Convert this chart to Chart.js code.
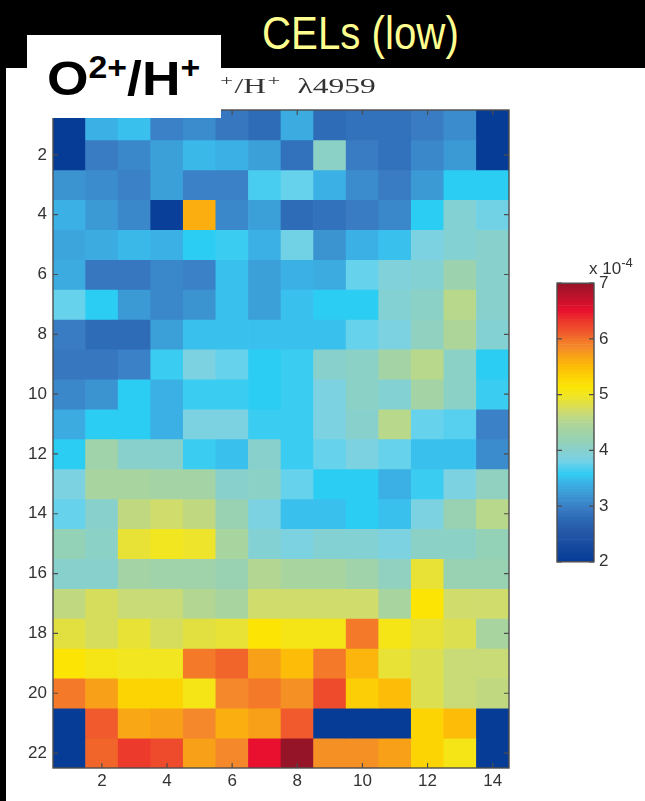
<!DOCTYPE html>
<html>
<head>
<meta charset="utf-8">
<script src="https://cdn.jsdelivr.net/npm/chart.js@4.4.1/dist/chart.umd.min.js"></script>
<style>
  html, body { margin: 0; padding: 0; background: #fff; }
  body { width: 645px; height: 801px; position: relative; overflow: hidden; font-family: "Liberation Sans", Arial, sans-serif; }
  canvas { position: absolute; }
  #map { left: 0; top: 0; }
  #cbar { left: 550px; top: 268px; }
  .black { position: absolute; background: #000; }
  #head { left: 0; top: 0; width: 645px; height: 68px; }
  #edge { left: 0; top: 0; width: 6px; height: 801px; }
  #head span { position: absolute; left: 262px; top: 6px; color: #ffff90; font-size: 46px; white-space: nowrap; transform: scaleX(0.875); transform-origin: left top; }
  #tag { position: absolute; left: 27px; top: 35px; width: 194px; height: 83px; background: #fff; }
  #tag span { position: absolute; left: 20px; top: 19px; font-weight: bold; font-size: 49px; line-height: 1; color: #000; white-space: nowrap; transform: scaleX(1.09); transform-origin: left top; }
  #tag sup { font-size: 31px; vertical-align: 17px; line-height: 0; }
  #expo { position: absolute; left: 589px; top: 259px; font-size: 17px; color: #333; white-space: nowrap; }
  #expo sup { font-size: 13px; vertical-align: 7px; line-height: 0; }
</style>
</head>
<body>
<canvas id="map" width="520" height="801"></canvas>
<canvas id="cbar" width="95" height="309"></canvas>
<div class="black" id="head"><span>CELs (low)</span></div>
<div class="black" id="edge"></div>
<div id="tag"><span>O<sup>2+</sup>/H<sup>+</sup></span></div>
<div id="expo">x 10<sup>-4</sup></div>
<script>
const columns = [1, 2, 3, 4, 5, 6, 7, 8, 9, 10, 11, 12, 13, 14];
const rows = [1, 2, 3, 4, 5, 6, 7, 8, 9, 10, 11, 12, 13, 14, 15, 16, 17, 18, 19, 20, 21, 22];
const xTicks = [2, 4, 6, 8, 10, 12, 14];
const yTicks = [2, 4, 6, 8, 10, 12, 14, 16, 18, 20, 22];
const barTicks = [2, 3, 4, 5, 6, 7];
const barMin = 2;
const barMax = 7;

// O2+/H+ from [O III] 4959, in units of 1e-4, one line per map row (row 1 first)
const ratio = [
  [2.0, 3.4, 3.5, 3.0, 3.1, 2.9, 2.8, 3.35, 2.8, 2.85, 2.85, 2.95, 3.1, 2.0],
  [2.0, 2.95, 3.05, 3.25, 3.45, 3.4, 3.25, 2.85, 4.05, 2.95, 2.85, 3.05, 3.2, 2.0],
  [3.15, 3.1, 3.0, 3.25, 3.0, 3.0, 3.65, 3.75, 3.4, 3.1, 2.95, 3.2, 3.55, 3.55],
  [3.4, 3.2, 3.05, 2.05, 5.6, 3.05, 3.25, 2.8, 2.85, 2.95, 3.05, 3.55, 3.95, 3.8],
  [3.3, 3.35, 3.45, 3.4, 3.55, 3.6, 3.4, 3.8, 3.15, 3.4, 3.5, 3.85, 3.95, 4.0],
  [3.35, 2.9, 2.9, 3.05, 3.0, 3.5, 3.25, 3.4, 3.35, 3.75, 3.9, 3.95, 4.25, 4.0],
  [3.75, 3.55, 3.2, 3.05, 3.15, 3.5, 3.25, 3.5, 3.55, 3.55, 3.95, 4.05, 4.55, 4.0],
  [2.95, 2.8, 2.8, 3.25, 3.5, 3.5, 3.5, 3.5, 3.5, 3.75, 3.85, 4.1, 4.45, 3.95],
  [2.9, 2.9, 3.0, 3.6, 3.85, 3.75, 3.55, 3.6, 4.0, 4.05, 4.35, 4.55, 4.05, 3.55],
  [3.05, 3.15, 3.55, 3.4, 3.6, 3.6, 3.55, 3.6, 3.85, 4.05, 3.95, 4.35, 4.05, 3.6],
  [3.35, 3.55, 3.55, 3.4, 3.85, 3.85, 3.6, 3.6, 3.85, 4.0, 4.55, 3.75, 3.7, 3.0],
  [3.55, 4.3, 4.0, 4.0, 3.6, 3.5, 4.0, 3.6, 3.75, 3.85, 3.75, 3.5, 3.5, 3.1],
  [3.85, 4.4, 4.4, 4.35, 4.35, 4.0, 4.05, 3.75, 3.55, 3.55, 3.4, 3.6, 3.85, 4.1],
  [3.75, 4.0, 4.6, 4.7, 4.6, 4.2, 3.85, 3.5, 3.5, 3.55, 3.5, 3.85, 4.2, 4.55],
  [4.15, 4.05, 4.9, 5.0, 4.95, 4.4, 3.95, 3.85, 3.95, 3.95, 3.85, 4.05, 4.05, 4.15],
  [4.0, 4.0, 4.35, 4.3, 4.3, 4.2, 4.5, 4.4, 4.4, 4.3, 4.1, 4.9, 4.2, 4.2],
  [4.6, 4.75, 4.65, 4.65, 4.5, 4.4, 4.7, 4.7, 4.7, 4.7, 4.4, 5.15, 4.7, 4.7],
  [4.85, 4.75, 4.9, 4.75, 4.85, 4.9, 5.15, 5.05, 5.05, 5.95, 5.05, 4.9, 4.8, 4.4],
  [5.15, 5.05, 5.0, 5.0, 5.95, 6.05, 5.7, 5.5, 5.95, 5.55, 4.9, 4.8, 4.65, 4.65],
  [5.95, 5.7, 5.3, 5.3, 5.05, 5.85, 5.95, 5.8, 6.2, 5.35, 5.5, 4.8, 4.65, 4.6],
  [2.0, 6.1, 5.65, 5.7, 5.85, 5.6, 5.7, 6.1, 2.0, 2.0, 2.0, 5.3, 5.5, 2.0],
  [2.0, 6.05, 6.3, 6.2, 5.7, 5.85, 6.5, 7.0, 5.8, 5.8, 5.7, 5.3, 5.05, 2.0]
];

// jet-like colour ramp used by the map and the colour bar
const ramp = [
  [2.0, '#063c96'], [2.5, '#2456a6'], [2.8, '#2e6cb8'], [2.95, '#3a7cc4'],
  [3.1, '#3a8ccc'], [3.25, '#3ca0d8'], [3.4, '#3ab0e4'], [3.5, '#3ac0ec'],
  [3.55, '#2ccdf2'], [3.65, '#48ccf0'], [3.75, '#66d2ec'], [3.85, '#7cd2e0'],
  [4.0, '#88d0cc'], [4.2, '#98d2b2'], [4.4, '#a8d4a0'], [4.55, '#b8d88c'],
  [4.7, '#d0dc6c'], [4.85, '#e2e040'], [5.0, '#f2e620'], [5.15, '#fce404'],
  [5.3, '#fcd404'], [5.5, '#fcbc08'], [5.7, '#f8a018'], [5.85, '#f4882a'],
  [5.95, '#f47a2a'], [6.1, '#f05a2c'], [6.3, '#ec3a2c'], [6.5, '#e8102e'],
  [7.0, '#961428']
];

function hexRgb(h) {
  return [1, 3, 5].map(i => parseInt(h.slice(i, i + 2), 16));
}

function colorFor(v) {
  if (v <= ramp[0][0]) return ramp[0][1];
  for (let i = 1; i < ramp.length; i++) {
    if (v <= ramp[i][0]) {
      const t = (v - ramp[i - 1][0]) / (ramp[i][0] - ramp[i - 1][0]);
      const a = hexRgb(ramp[i - 1][1]);
      const b = hexRgb(ramp[i][1]);
      const c = a.map((x, k) => Math.round(x + (b[k] - x) * t));
      return 'rgb(' + c.join(',') + ')';
    }
  }
  return ramp[ramp.length - 1][1];
}

// box round the axes with inward ticks on every side
const boxTicks = {
  id: 'boxTicks',
  afterDatasetsDraw(chart) {
    const { ctx, chartArea: a } = chart;
    ctx.save();
    ctx.strokeStyle = '#4d4d4d';
    ctx.lineWidth = 1.4;
    ctx.strokeRect(a.left, a.top, a.right - a.left, a.bottom - a.top);
    ctx.lineWidth = 1.2;
    ctx.beginPath();
    const x = chart.scales.x;
    if (x.options.display !== false) {
      x.ticks.forEach(t => {
        const px = x.getPixelForValue(t.value);
        ctx.moveTo(px, a.bottom); ctx.lineTo(px, a.bottom - 5);
        ctx.moveTo(px, a.top); ctx.lineTo(px, a.top + 5);
      });
    }
    const y = chart.scales.y;
    y.ticks.forEach(t => {
      const py = y.getPixelForValue(t.value);
      ctx.moveTo(a.left, py); ctx.lineTo(a.left + 5, py);
      ctx.moveTo(a.right, py); ctx.lineTo(a.right - 5, py);
    });
    ctx.stroke();
    ctx.restore();
  }
};

// TeX-style title with raised charges, stretched like the exported figure
const texTitle = {
  id: 'texTitle',
  afterDraw(chart) {
    const { ctx, chartArea: a } = chart;
    const parts = [['O', 0], ['2+', 1], ['/H', 0], ['+', 1], ['  \u03bb4959', 0]];
    const base = '21px "Liberation Serif", "Times New Roman", serif';
    const small = '15px "Liberation Serif", "Times New Roman", serif';
    const stretch = 1.5;
    ctx.save();
    let w = 0;
    parts.forEach(p => { ctx.font = p[1] ? small : base; w += ctx.measureText(p[0]).width + 1; });
    ctx.translate((a.left + a.right) / 2, a.top - 17);
    ctx.scale(stretch, 1);
    let x = -w / 2;
    ctx.fillStyle = '#333';
    ctx.textBaseline = 'alphabetic';
    parts.forEach(p => {
      ctx.font = p[1] ? small : base;
      ctx.fillText(p[0], x, p[1] ? -8 : 0);
      x += ctx.measureText(p[0]).width + 1;
    });
    ctx.restore();
  }
};

const tickFont = { family: '"Liberation Sans", Arial, sans-serif', size: 17 };

new Chart(document.getElementById('map'), {
  type: 'bar',
  data: {
    datasets: rows.map((r, i) => ({
      data: columns.map(c => ({ x: c, y: [r - 0.5, r + 0.5] })),
      backgroundColor: ratio[i].map(colorFor),
      borderWidth: 0,
      grouped: false,
      barPercentage: 1,
      categoryPercentage: 1
    }))
  },
  options: {
    responsive: false,
    animation: false,
    layout: { padding: { top: 110, right: 11, bottom: 0, left: 0 } },
    plugins: { legend: { display: false }, tooltip: { enabled: false } },
    scales: {
      x: {
        type: 'linear',
        min: 0.5,
        max: 14.5,
        offset: false,
        grid: { display: false, drawTicks: false },
        border: { display: false },
        afterBuildTicks: s => { s.ticks = xTicks.map(v => ({ value: v })); },
        afterFit: s => { s.height = 33; },
        ticks: { color: '#333', font: tickFont, padding: 3, maxRotation: 0, autoSkip: false }
      },
      y: {
        type: 'linear',
        min: 0.5,
        max: 22.5,
        reverse: true,
        grid: { display: false, drawTicks: false },
        border: { display: false },
        afterBuildTicks: s => { s.ticks = yTicks.map(v => ({ value: v })); },
        afterFit: s => { s.width = 53; },
        ticks: { color: '#333', font: tickFont, padding: 6, autoSkip: false }
      }
    }
  },
  plugins: [boxTicks, texTitle]
});

// colour bar: thin floating bars stacked from barMin to barMax
const step = 0.05;
const levels = [];
for (let v = barMin; v < barMax - 1e-9; v += step) levels.push(v);

new Chart(document.getElementById('cbar'), {
  type: 'bar',
  data: {
    labels: [''],
    datasets: levels.map(v => ({
      data: [[v, v + step]],
      backgroundColor: colorFor(v + step / 2),
      borderWidth: 0,
      grouped: false,
      barPercentage: 1,
      categoryPercentage: 1
    }))
  },
  options: {
    responsive: false,
    animation: false,
    layout: { padding: { top: 13, right: 0, bottom: 9, left: 7 } },
    plugins: { legend: { display: false }, tooltip: { enabled: false } },
    scales: {
      x: { display: false },
      y: {
        position: 'right',
        min: barMin,
        max: barMax,
        grid: { display: false, drawTicks: false },
        border: { display: false },
        afterBuildTicks: s => { s.ticks = barTicks.map(v => ({ value: v })); },
        afterFit: s => { s.width = 51; },
        ticks: { color: '#333', font: tickFont, padding: 5 }
      }
    }
  },
  plugins: [boxTicks]
});
</script>
</body>
</html>
